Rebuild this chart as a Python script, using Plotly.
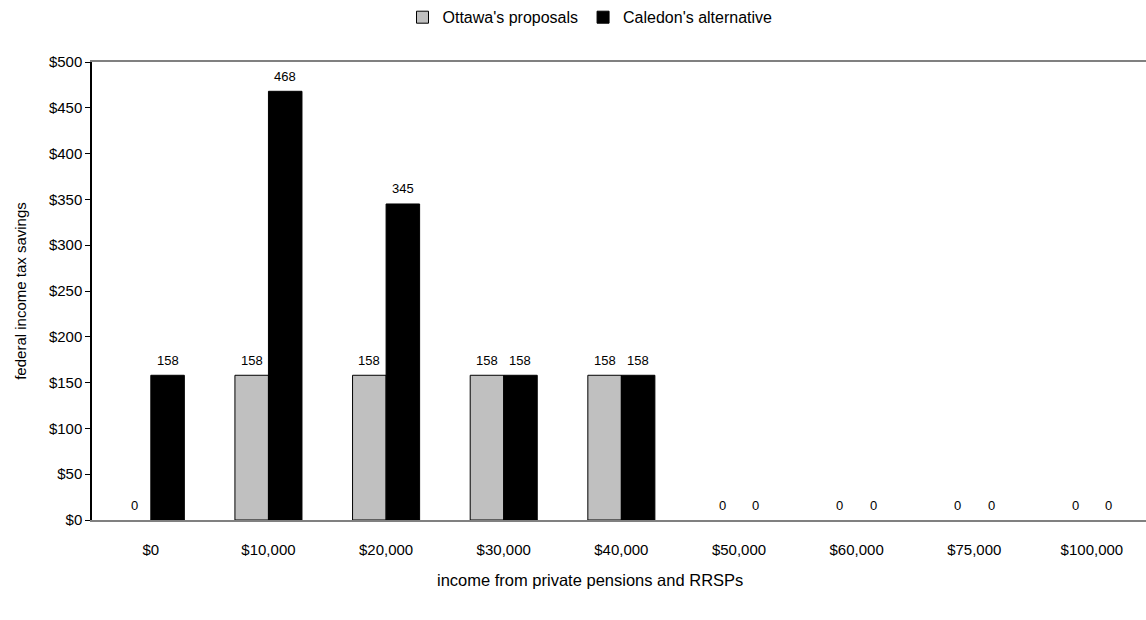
import plotly.graph_objects as go

categories = ["$0", "$10,000", "$20,000", "$30,000", "$40,000",
              "$50,000", "$60,000", "$75,000", "$100,000"]
ottawa = [0, 158, 158, 158, 158, 0, 0, 0, 0]
caledon = [158, 468, 345, 158, 158, 0, 0, 0, 0]
series_names = ["Ottawa's proposals", "Caledon's alternative"]
series_colors = ["#C0C0C0", "#000000"]
y_ticks = [0, 50, 100, 150, 200, 250, 300, 350, 400, 450, 500]
x_title = "income from private pensions and RRSPs"
y_title = "federal income tax savings"

FONT = "Liberation Sans, Arial, sans-serif"
BARGAP = 0.43
X_RANGE = [-0.5, 8.46]
PLOT_W = 1146 - 92
PLOT_H = 620 - 59 - 100
cat_px = PLOT_W / (X_RANGE[1] - X_RANGE[0])
bar_px = cat_px * (1 - BARGAP) / 2
CENTER = (590 - 92) / PLOT_W

fig = go.Figure()
for i, (name, vals, col) in enumerate(zip(series_names, [ottawa, caledon], series_colors)):
    # real bars (no outline drawn for zero-height bars)
    fig.add_trace(go.Bar(
        x=categories, y=vals, name=name, offsetgroup=str(i),
        legendgroup=str(i), showlegend=False,
        marker=dict(color=col,
                    line=dict(color="#000000",
                              width=[1 if v else 0 for v in vals])),
    ))
    # legend entry with outlined swatch
    fig.add_trace(go.Bar(
        x=[categories[0]], y=[None], name=name, offsetgroup=str(i),
        legendgroup=str(i), showlegend=True,
        marker=dict(color=col, line=dict(color="#000000", width=1)),
    ))
    shift = (i - 0.5) * bar_px
    for c, v in zip(categories, vals):
        fig.add_annotation(
            x=c, y=v, text=str(v), showarrow=False,
            xanchor="center", yanchor="middle",
            xshift=shift, yshift=15,
            font=dict(family=FONT, size=13, color="#000000"),
        )

# x-axis title, centred on the full chart like the original
fig.add_annotation(
    x=CENTER, y=-(580 - 520) / PLOT_H, xref="paper", yref="paper",
    text=x_title, showarrow=False, xanchor="center", yanchor="middle",
    font=dict(family=FONT, size=16.5, color="#000000"),
)

fig.update_layout(
    template="none",
    width=1146, height=620, autosize=False,
    margin=dict(l=92, r=0, t=59, b=100),
    paper_bgcolor="white", plot_bgcolor="white",
    barmode="group", bargap=BARGAP, bargroupgap=0,
    font=dict(family=FONT, size=15, color="#000000"),
    showlegend=True,
    legend=dict(orientation="h", x=CENTER, xanchor="center",
                y=1 + (59 - 14) / PLOT_H, yanchor="middle",
                font=dict(family=FONT, size=16, color="#000000"),
                itemwidth=30, traceorder="normal",
                bgcolor="rgba(0,0,0,0)"),
)
fig.update_xaxes(
    type="category", range=X_RANGE, automargin=False,
    showline=True, linecolor="#808080", linewidth=2, mirror=True,
    showgrid=False, zeroline=False, ticks="",
    ticklabelstandoff=15,
    tickfont=dict(family=FONT, size=15),
)
fig.update_yaxes(
    range=[0, 500], tickvals=y_ticks, automargin=False,
    ticktext=["$" + str(v) for v in y_ticks],
    showline=True, linecolor="#000000", linewidth=1.5,
    ticks="outside", ticklen=5, tickcolor="#000000", tickwidth=1,
    showgrid=False, zeroline=False,
    tickfont=dict(family=FONT, size=15),
    title=dict(text=y_title, font=dict(family=FONT, size=15), standoff=19),
)

fig.write_html("out.html")
